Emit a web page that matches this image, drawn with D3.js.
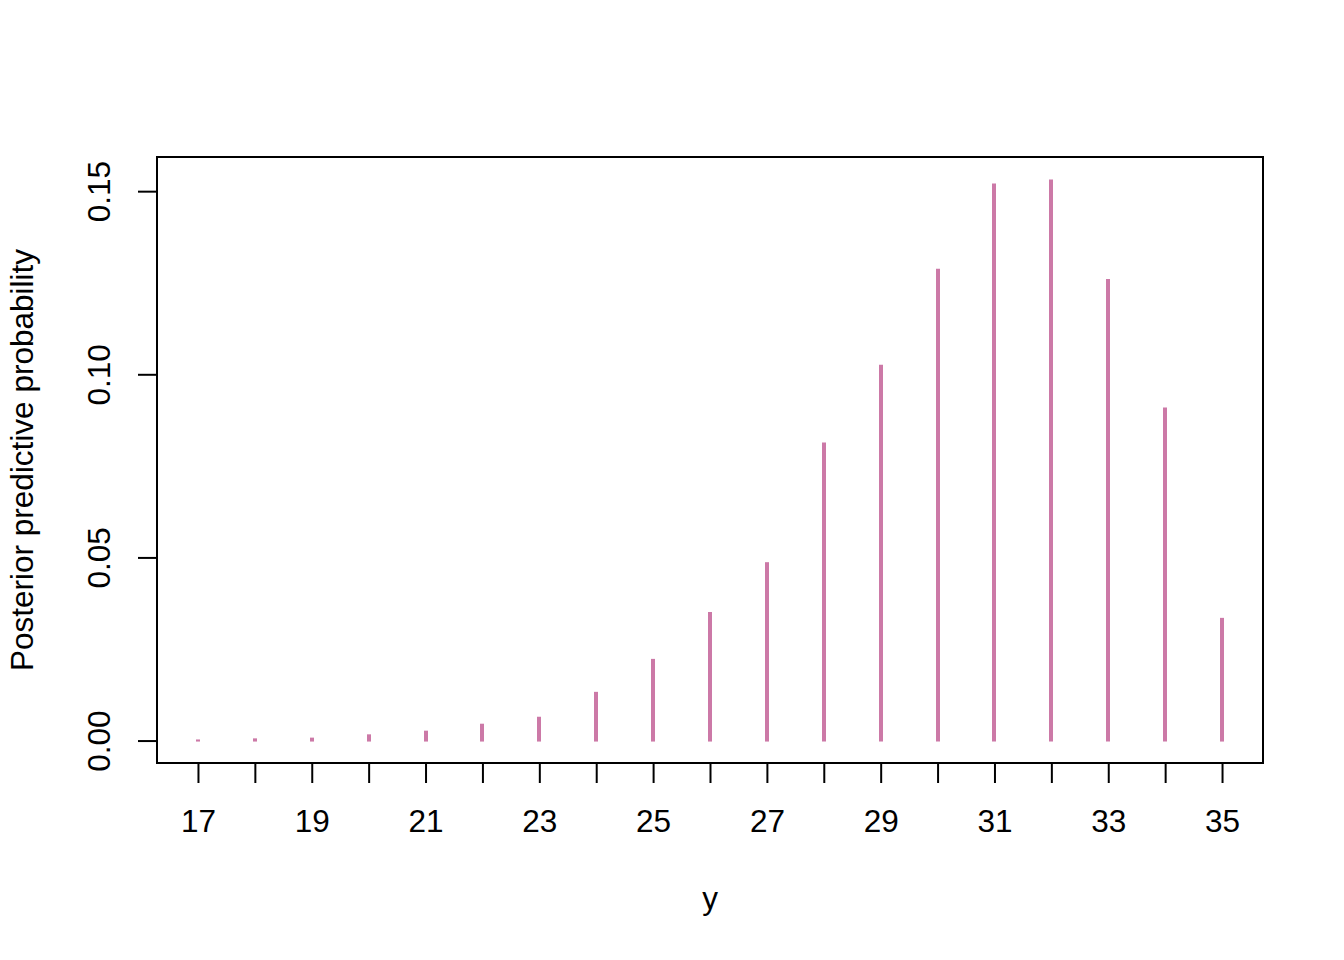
<!DOCTYPE html>
<html><head><meta charset="utf-8">
<script src="https://cdn.jsdelivr.net/npm/d3@7"></script>
<style>body{margin:0;background:#fff}svg{display:block}text{font-family:"Liberation Sans",Arial,sans-serif;fill:#000}</style>
</head><body>
<script>
const yVals = [17,18,19,20,21,22,23,24,25,26,27,28,29,30,31,32,33,34,35];
const probs = [0.0003,0.0006,0.0008,0.0017,0.0027,0.0046,0.0065,0.0133,0.0223,0.0351,0.0487,0.0814,0.1026,0.1288,0.1521,0.1532,0.1260,0.0909,0.0335];
const xTickLabels = [17,19,21,23,25,27,29,31,33,35];
const yTicks = [0,0.05,0.10,0.15];

const W=1344,H=960;
const box={l:157,r:1263,t:157,b:763};
const svg=d3.select("body").append("svg").attr("width",W).attr("height",H);
const xmin=17,xmax=35, pad=(xmax-xmin)*0.04;
const x=d3.scaleLinear().domain([xmin-pad,xmax+pad]).range([box.l,box.r]);
const ymax=d3.max(probs), ypad=ymax*0.04;
const y=d3.scaleLinear().domain([-ypad,ymax+ypad]).range([box.b,box.t]);

svg.append("g").selectAll("line").data(yVals).join("line")
  .attr("x1",(d)=>Math.round(x(d))).attr("x2",(d)=>Math.round(x(d)))
  .attr("y1",y(0)+1).attr("y2",(d,i)=>y(probs[i]))
  .attr("stroke","#CC79A7").attr("stroke-width",4);

svg.append("rect").attr("x",box.l).attr("y",box.t).attr("width",box.r-box.l).attr("height",box.b-box.t)
  .attr("fill","none").attr("stroke","#000").attr("stroke-width",2);

const fs=31.5;
const xa=svg.append("g").attr("transform",`translate(0,${box.b})`)
  .call(d3.axisBottom(x).tickValues(yVals).tickSize(20).tickFormat(d=>xTickLabels.includes(d)?d:""));
xa.select(".domain").attr("d",`M${x(17)},0H${x(35)}`).attr("stroke-width",2);
xa.selectAll(".tick line").attr("stroke-width",2);
xa.selectAll(".tick text").attr("font-size",fs).attr("dy",null).attr("y",61).attr("dominant-baseline","middle").attr("font-family","Liberation Sans, Arial, sans-serif");

const ya=svg.append("g").attr("transform",`translate(${box.l},0)`)
  .call(d3.axisLeft(y).tickValues(yTicks).tickSize(19).tickFormat(d3.format(".2f")));
ya.select(".domain").attr("d",`M0,${y(0)}V${y(0.15)}`).attr("stroke-width",2);
ya.selectAll(".tick line").attr("stroke-width",2);
ya.selectAll(".tick text").attr("font-size",fs).attr("x",null).attr("dy",null)
  .attr("transform","translate(-55,0) rotate(-90)").attr("text-anchor","middle").attr("dominant-baseline","middle").attr("font-family","Liberation Sans, Arial, sans-serif");

svg.append("text").attr("x",(box.l+box.r)/2).attr("y",901).attr("text-anchor","middle").attr("dominant-baseline","middle").attr("font-size",fs).text("y");
svg.append("text").attr("transform",`translate(25,${(box.t+box.b)/2}) rotate(-90)`).attr("text-anchor","middle").attr("dominant-baseline","middle").attr("font-size",fs).text("Posterior predictive probability");
</script>
</body></html>
